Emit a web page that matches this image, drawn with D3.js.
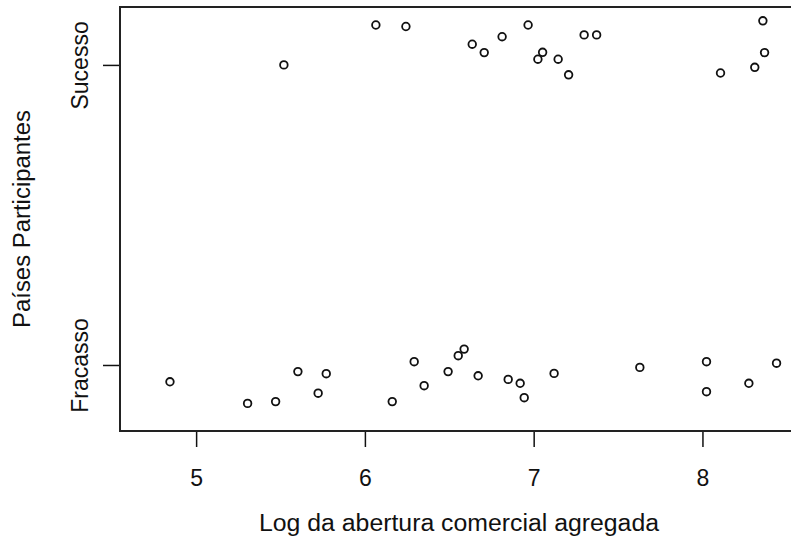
<!DOCTYPE html>
<html>
<head>
<meta charset="utf-8">
<script src="https://cdn.jsdelivr.net/npm/d3@7"></script>
<style>
  html, body { margin: 0; padding: 0; background: #fff; }
  svg { display: block; }
  text { font-family: "Liberation Sans", Arial, sans-serif; fill: #111; }
</style>
</head>
<body>
<svg id="chart" width="791" height="554"></svg>
<script>
// Log of aggregate trade openness for each participating country,
// with the outcome (0 = Fracasso, 1 = Sucesso) jittered vertically.
const sucessoX = [5.520, 6.065, 6.243, 6.636, 6.707, 6.813, 6.967, 7.053, 7.025,
                  7.145, 7.207, 7.299, 7.373, 8.107, 8.310, 8.358, 8.368];
const sucessoY = [1.000, 1.133, 1.128, 1.069, 1.041, 1.094, 1.133, 1.042, 1.019,
                  1.019, 0.967, 1.100, 1.100, 0.973, 0.992, 1.147, 1.041];
const fracassoX = [4.845, 5.305, 5.471, 5.603, 5.771, 5.723, 6.162, 6.292, 6.351,
                   6.493, 6.553, 6.588, 6.671, 6.849, 6.920, 6.944, 7.121, 7.629,
                   8.024, 8.024, 8.275, 8.439];
const fracassoY = [-0.056, -0.128, -0.122, -0.022, -0.029, -0.094, -0.122, 0.011, -0.069,
                   -0.022, 0.031, 0.053, -0.036, -0.048, -0.061, -0.109, -0.028, -0.008,
                   0.011, -0.089, -0.061, 0.006];
const xTicks = [5, 6, 7, 8];
const yTickValues = [0, 1];
const yTickLabels = ["Fracasso", "Sucesso"];
const xTitle = "Log da abertura comercial agregada";
const yTitle = "Países Participantes";

const box = { left: 120, right: 800, top: 7, bottom: 431 };
const svg = d3.select("#chart");

const x = d3.scaleLinear().domain([4.549, 8.578]).range([box.left, box.right]);
const y = d3.scaleLinear().domain([-0.22, 1.193]).range([box.bottom, box.top]);

const fontSize = 23;
const fontStack = "'Liberation Sans', Arial, sans-serif";

// x axis
const xAxis = d3.axisBottom(x).tickValues(xTicks).tickFormat(d3.format("d"))
  .tickSize(16).tickPadding(23);
const gx = svg.append("g").attr("transform", `translate(0,${box.bottom})`).call(xAxis);
gx.select(".domain").remove();
gx.selectAll(".tick line").attr("stroke", "#111").attr("stroke-width", 1.5);
gx.selectAll(".tick text").attr("font-size", fontSize).attr("fill", "#111")
  .style("font-family", fontStack);

// y axis with category labels written along the axis
const yAxis = d3.axisLeft(y).tickValues(yTickValues)
  .tickFormat((d, i) => yTickLabels[i]).tickSize(17).tickPadding(0);
const gy = svg.append("g").attr("transform", `translate(${box.left},0)`).call(yAxis);
gy.select(".domain").remove();
gy.selectAll(".tick line").attr("stroke", "#111").attr("stroke-width", 1.5);
gy.selectAll(".tick text")
  .attr("font-size", fontSize).attr("fill", "#111")
  .style("font-family", fontStack)
  .attr("text-anchor", "middle")
  .attr("x", 0).attr("y", 0).attr("dy", 0)
  .attr("transform", "translate(-40,0) rotate(-90)")
  .attr("dominant-baseline", "central");

// plot frame
svg.append("rect")
  .attr("x", box.left).attr("y", box.top)
  .attr("width", box.right - box.left).attr("height", box.bottom - box.top)
  .attr("fill", "none").attr("stroke", "#222").attr("stroke-width", 2);

// points
const pts = sucessoX.map((v, i) => [v, sucessoY[i]])
  .concat(fracassoX.map((v, i) => [v, fracassoY[i]]));
svg.append("g").selectAll("circle").data(pts).join("circle")
  .attr("cx", d => x(d[0])).attr("cy", d => y(d[1]))
  .attr("r", 3.8).attr("fill", "none").attr("stroke", "#111").attr("stroke-width", 1.8);

// axis titles
svg.append("text")
  .attr("x", 459).attr("y", 531)
  .attr("text-anchor", "middle").attr("font-size", fontSize)
  .attr("textLength", 400).attr("lengthAdjust", "spacingAndGlyphs")
  .text(xTitle);
svg.append("text")
  .attr("transform", `translate(30,${(box.top + box.bottom) / 2}) rotate(-90)`)
  .attr("text-anchor", "middle").attr("font-size", fontSize)
  .attr("textLength", 218).attr("lengthAdjust", "spacingAndGlyphs")
  .text(yTitle);
</script>
</body>
</html>
